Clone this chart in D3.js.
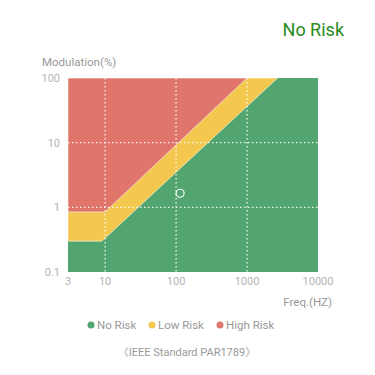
<!DOCTYPE html>
<meta charset="utf-8">
<style>
body { margin: 0; background: #fff; }
text { font-family: Roboto, "Noto Sans", Arial, sans-serif; }
.tick-label { fill: #b3b3b3; font-size: 11px; }
.grid line { stroke: #fff; stroke-width: 1.3; stroke-dasharray: 1.5,2.5; opacity: 0.9; }
</style>
<svg width="375" height="375"></svg>
<script src="https://d3js.org/d3.v7.min.js"></script>
<script>

// boundaries of the risk zones (freq in Hz, modulation in %)
var lowRiskEdge = [[3, 0.3], [9, 0.3], [2700, 100]];
var highRiskEdge = [[3, 0.85], [10, 0.85], [1000, 100]];
var measured = [[114, 1.65]];

var xTicks = [3, 10, 100, 1000, 10000];
var yTicks = [0.1, 1, 10, 100];
var xGrid = [10, 100, 1000];
var yGrid = [1, 10];

var legendItems = ["No Risk", "Low Risk", "High Risk"];
var legendColors = ["#52a56f", "#f4c74e", "#e0766b"];

var svg = d3.select("svg");

var x = d3.scaleLog().domain([3, 10000]).range([68, 318]);
var y = d3.scaleLog().domain([0.1, 100]).range([272, 78]);

var area = d3.area()
    .x(function(d) { return x(d[0]); })
    .y1(function(d) { return y(d[1]); })
    .y0(y(100));

function topUp(edge) {
  // close the shape along the top edge to the right border
  return edge.concat([[10000, 100]]);
}

// green background
svg.append("rect")
    .attr("x", x(3)).attr("y", y(100))
    .attr("width", x(10000) - x(3)).attr("height", y(0.1) - y(100))
    .attr("fill", legendColors[0]);

// yellow: everything above the low risk edge
svg.append("path")
    .datum(lowRiskEdge)
    .attr("d", area)
    .attr("fill", legendColors[1])
    .attr("stroke", "rgba(255,255,255,0.7)")
    .attr("stroke-width", 0.8);

// red: everything above the high risk edge
svg.append("path")
    .datum(highRiskEdge)
    .attr("d", area)
    .attr("fill", legendColors[2])
    .attr("stroke", "rgba(255,255,255,0.7)")
    .attr("stroke-width", 0.8);

// redraw the left/top borders clean
svg.append("rect")
    .attr("x", x(3) - 2).attr("y", y(100) - 2)
    .attr("width", 2).attr("height", y(0.1) - y(100) + 2)
    .attr("fill", "#fff");
svg.append("rect")
    .attr("x", x(3) - 2).attr("y", y(100) - 2)
    .attr("width", x(10000) - x(3) + 4).attr("height", 2)
    .attr("fill", "#fff");

var grid = svg.append("g").attr("class", "grid");
grid.selectAll(".vx").data(xGrid).enter().append("line")
    .attr("x1", function(d) { return x(d); }).attr("x2", function(d) { return x(d); })
    .attr("y1", y(100)).attr("y2", y(0.1));
grid.selectAll(".hy").data(yGrid).enter().append("line")
    .attr("y1", function(d) { return y(d); }).attr("y2", function(d) { return y(d); })
    .attr("x1", x(3)).attr("x2", x(10000));

// measured point
svg.selectAll(".pt").data(measured).enter().append("circle")
    .attr("cx", function(d) { return x(d[0]); })
    .attr("cy", function(d) { return y(d[1]); })
    .attr("r", 4)
    .attr("fill", "none")
    .attr("stroke", "#fff")
    .attr("stroke-width", 1.2);

// tick labels
svg.selectAll(".xt").data(xTicks).enter().append("text")
    .attr("class", "tick-label")
    .attr("x", function(d) { return x(d); })
    .attr("y", 285)
    .attr("text-anchor", "middle")
    .text(function(d) { return d; });

svg.selectAll(".yt").data(yTicks).enter().append("text")
    .attr("class", "tick-label")
    .attr("x", 60)
    .attr("y", function(d) { return y(d) + 4; })
    .attr("text-anchor", "end")
    .text(function(d) { return d; });

// axis titles
svg.append("text")
    .attr("x", 42).attr("y", 66)
    .attr("fill", "#999").attr("font-size", 11.5)
    .text("Modulation(%)");

svg.append("text")
    .attr("x", 332).attr("y", 306)
    .attr("text-anchor", "end")
    .attr("fill", "#999").attr("font-size", 11.5)
    .text("Freq.(HZ)");

// verdict
svg.append("text")
    .attr("x", 344).attr("y", 36)
    .attr("text-anchor", "end")
    .attr("fill", "#2a8a1f").attr("font-size", 18)
    .text("No Risk");

// legend
var legendX = [91, 152, 220];
var legend = svg.selectAll(".lg").data(legendItems).enter().append("g")
    .attr("transform", function(d, i) { return "translate(" + legendX[i] + ",325)"; });
legend.append("circle")
    .attr("r", 3.5)
    .attr("fill", function(d, i) { return legendColors[i]; });
legend.append("text")
    .attr("x", 6).attr("y", 4)
    .attr("fill", "#999").attr("font-size", 11.5)
    .text(function(d) { return d; });

svg.append("text")
    .attr("x", 187).attr("y", 356)
    .attr("text-anchor", "middle")
    .attr("fill", "#999").attr("font-size", 11)
    .text("《IEEE Standard PAR1789》");

</script>
